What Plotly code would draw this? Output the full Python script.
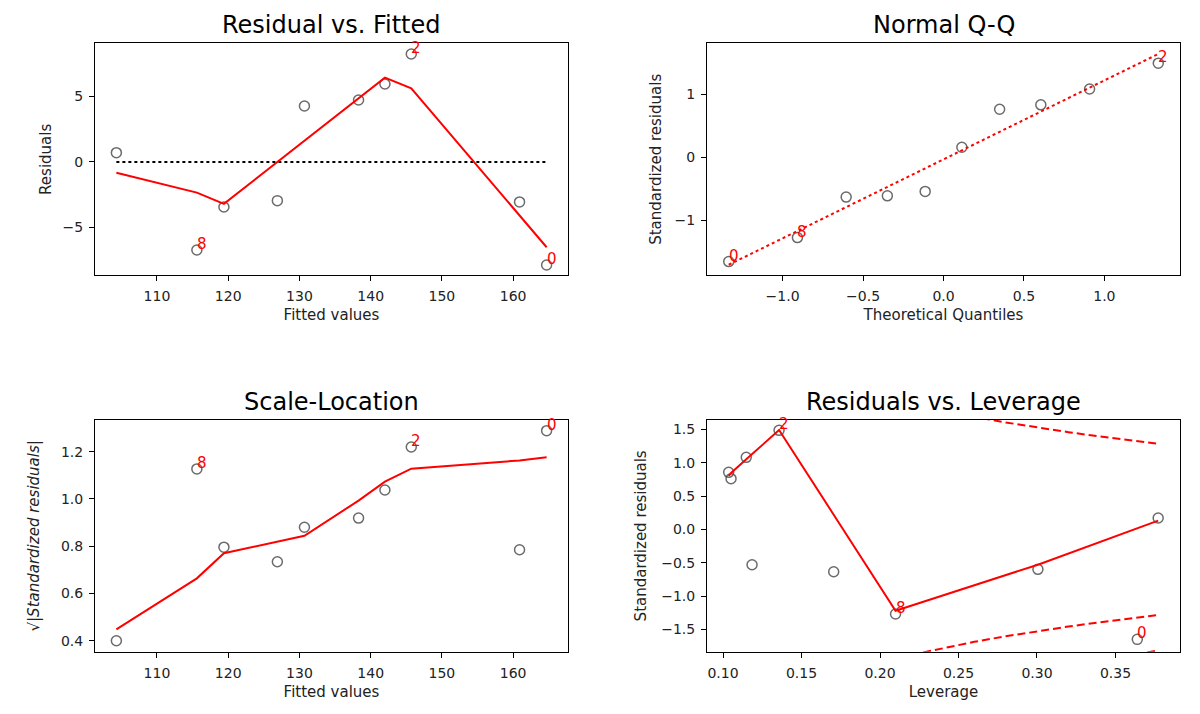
# -*- coding: utf-8 -*-
#
# Диагностические графики линейной регрессии (4 панели).

import plotly.graph_objects as go

# Наблюдения, отсортированы по предсказанным значениям
fitted = [104.3, 115.6, 119.4, 126.9, 130.7, 138.3, 142.0, 145.7, 160.9, 164.7]
residuals = [0.71, -6.72, -3.44, -2.95, 4.27, 4.73, 5.95, 8.24, -3.05, -7.86]
resid_lowess = [-0.82, -2.34, -3.20, 0.0, 1.60, 4.85, 6.44, 5.62, -4.07, -6.51]

sqrt_std_resid = [0.40, 1.127, 0.796, 0.734, 0.880, 0.919, 1.038, 1.220, 0.785, 1.289]
scale_lowess = [0.448, 0.664, 0.770, 0.819, 0.844, 0.993, 1.073, 1.128, 1.163, 1.176]

# Q-Q
theor_quant = [-1.335, -0.908, -0.605, -0.349, -0.114, 0.114, 0.349, 0.605, 0.908, 1.335]
sample_quant = [-1.65, -1.27, -0.63, -0.61, -0.54, 0.16, 0.76, 0.83, 1.08, 1.49]
qq_line_x = [-1.335, 1.335]
qq_line_y = [-1.70, 1.635]

# Leverage
leverage = [0.1036, 0.1051, 0.1148, 0.1185, 0.1357, 0.1705, 0.2099, 0.3006, 0.3639, 0.3772]
lev_std_resid = [0.855, 0.76, 1.08, -0.53, 1.485, -0.635, -1.27, -0.60, -1.65, 0.17]
lev_lowess = [0.80, 0.846, 1.05, 1.127, 1.49, 0.22, -1.22, -0.53, 0.02, 0.13]

# Линии расстояния Кука
cook_x = [0.22, 0.24, 0.26, 0.28, 0.30, 0.32, 0.34, 0.36, 0.3772]
cook_05_up = [1.883, 1.780, 1.687, 1.604, 1.528, 1.458, 1.393, 1.333, 1.285]
cook_05_down = [-1.883, -1.780, -1.687, -1.604, -1.528, -1.458, -1.393, -1.333, -1.285]
cook_1_x = [0.34, 0.36, 0.3772]
cook_1_down = [-1.970, -1.886, -1.817]

# Подписанные наблюдения: метка и индекс в массивах каждой панели
obs_labels = ['0', '8', '2']
idx_fitted = [9, 1, 7]
idx_qq = [0, 1, 9]
idx_lev = [8, 6, 4]

TEXT = '#222222'
FONT = 'DejaVu Sans'

fig = go.Figure()

circle = dict(symbol='circle-open', size=10, color='rgba(70,70,70,0.8)',
              line=dict(width=1.5))
red_line = dict(color='red', width=2)


def pts(x, y, xa, ya):
    fig.add_trace(go.Scatter(x=x, y=y, mode='markers', marker=circle,
                             xaxis=xa, yaxis=ya, showlegend=False, hoverinfo='skip'))


def line(x, y, xa, ya, style):
    fig.add_trace(go.Scatter(x=x, y=y, mode='lines', line=style,
                             xaxis=xa, yaxis=ya, showlegend=False, hoverinfo='skip'))


# 1. Residual vs. Fitted
line([fitted[0], fitted[-1]], [0, 0], 'x', 'y', dict(color='black', width=2, dash='dot'))
pts(fitted, residuals, 'x', 'y')
line(fitted, resid_lowess, 'x', 'y', red_line)

# 2. Normal Q-Q
pts(theor_quant, sample_quant, 'x2', 'y2')
line(qq_line_x, qq_line_y, 'x2', 'y2', dict(color='red', width=2, dash='dot'))

# 3. Scale-Location
pts(fitted, sqrt_std_resid, 'x3', 'y3')
line(fitted, scale_lowess, 'x3', 'y3', red_line)

# 4. Residuals vs. Leverage
pts(leverage, lev_std_resid, 'x4', 'y4')
line(leverage, lev_lowess, 'x4', 'y4', red_line)
cook_style = dict(color='red', width=2, dash='8px,4px')
line(cook_x, cook_05_up, 'x4', 'y4', cook_style)
line(cook_x, cook_05_down, 'x4', 'y4', cook_style)
line(cook_1_x, cook_1_down, 'x4', 'y4', cook_style)

# Красные подписи наблюдений
annotations = []


def add_labels(xs, ys, idx, xref, yref):
    for lab, i in zip(obs_labels, idx):
        annotations.append(dict(x=xs[i], y=ys[i], xref=xref, yref=yref, text=lab,
                                showarrow=False, xanchor='left', yanchor='bottom',
                                xshift=-2, yshift=-5,
                                font=dict(color='red', size=15, family=FONT)))


add_labels(fitted, residuals, idx_fitted, 'x', 'y')
add_labels(theor_quant, sample_quant, idx_qq, 'x2', 'y2')
add_labels(fitted, sqrt_std_resid, idx_fitted, 'x3', 'y3')
add_labels(leverage, lev_std_resid, idx_lev, 'x4', 'y4')

# Заголовки панелей
titles = ['Residual vs. Fitted', 'Normal Q-Q', 'Scale-Location', 'Residuals vs. Leverage']
title_x = [0.27625, 0.78625, 0.27625, 0.78625]
title_y = [0.965, 0.965, 0.437, 0.437]
for t, tx, ty in zip(titles, title_x, title_y):
    annotations.append(dict(x=tx, y=ty, xref='paper', yref='paper', text=t,
                            showarrow=False, xanchor='center', yanchor='middle',
                            font=dict(size=24, color='black', family=FONT)))


def ax(domain, rng, title, anchor, standoff, **kw):
    d = dict(domain=domain, range=rng, anchor=anchor,
             showline=True, linecolor='black', linewidth=1, mirror=True,
             ticks='outside', ticklen=5, tickcolor='black', ticklabelstandoff=3,
             showgrid=False, zeroline=False,
             tickfont=dict(size=14, color=TEXT, family=FONT),
             title=dict(text=title, standoff=standoff,
                        font=dict(size=15, color=TEXT, family=FONT)))
    d.update(kw)
    return d


left = [0.07917, 0.47333]
right = [0.58917, 0.98333]
top = [0.61443, 0.93936]
bottom = [0.08725, 0.41176]

fig.update_layout(
    width=1200,
    height=714,
    margin=dict(l=0, r=0, t=0, b=0),
    paper_bgcolor='white',
    plot_bgcolor='white',
    font=dict(family=FONT, color=TEXT),
    showlegend=False,
    annotations=annotations,
    xaxis=ax(left, [101.3, 167.7], 'Fitted values', 'y', 6, dtick=10),
    yaxis=ax(top, [-8.65, 9.06], 'Residuals', 'x', 7, dtick=5),
    xaxis2=ax(right, [-1.47, 1.47], 'Theoretical Quantiles', 'y2', 6,
              dtick=0.5, tickformat='.1f'),
    yaxis2=ax(top, [-1.867, 1.804], 'Standardized residuals', 'x2', 9, dtick=1),
    xaxis3=ax(left, [101.3, 167.7], 'Fitted values', 'y3', 6, dtick=10),
    yaxis3=ax(bottom, [0.3535, 1.334],
              '√|<i>Standardized residuals</i>|', 'x3', 17,
              dtick=0.2, tickformat='.1f'),
    xaxis4=ax(right, [0.0898, 0.3911], 'Leverage', 'y4', 6,
              dtick=0.05, tick0=0.1, tickformat='.2f'),
    yaxis4=ax(bottom, [-1.835, 1.64], 'Standardized residuals', 'x4', 10,
              dtick=0.5, tickformat='.1f'),
)

# убираем отступ body, чтобы график стоял ровно в углу окна
fig.write_html("out.html", config={'displayModeBar': False},
               post_script="document.body.style.margin='0';")
